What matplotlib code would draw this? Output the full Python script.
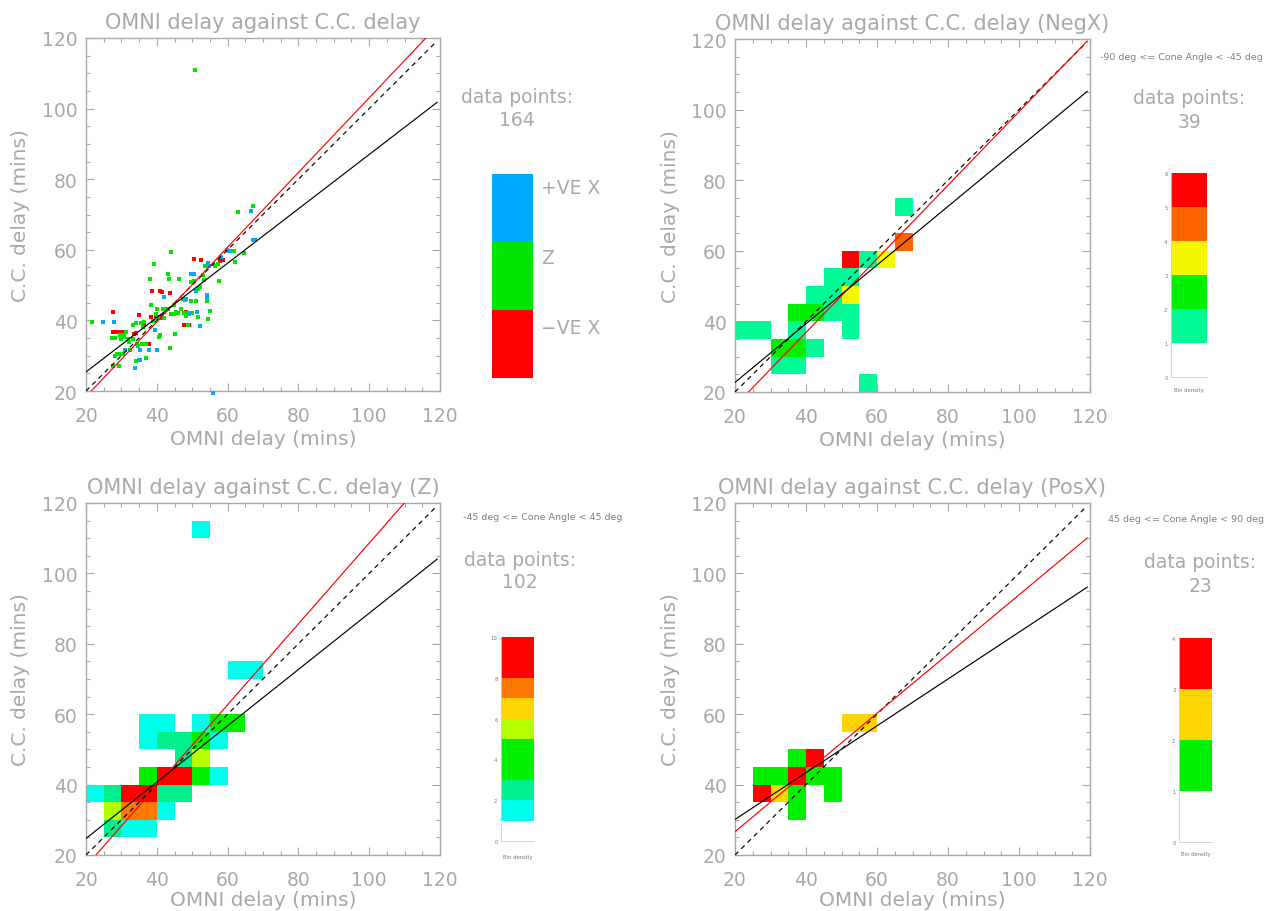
import numpy as np
import matplotlib
matplotlib.use("Agg")
import matplotlib.pyplot as plt
from matplotlib.colors import ListedColormap, BoundaryNorm
from matplotlib.ticker import MultipleLocator

# ---------------- data ----------------
# Panel 1 scatter: OMNI delay (x) vs C.C. delay (y), by cone-angle class
neg_x = [27.7, 27.5, 28.3, 29.0, 29.8, 30.5, 33.7, 34.1, 34.9, 36.3, 37.9, 38.4,
         39.8, 38.6, 40.8, 41.5, 43.8, 48.2, 48.7, 47.8, 49.2, 50.6, 52.5, 57.9,
         58.6, 41.4, 40.5]
neg_y = [42.3, 36.8, 36.8, 36.8, 36.8, 36.8, 36.1, 36.3, 41.5, 38.8, 33.3, 41.1,
         41.3, 48.4, 48.3, 48.1, 47.8, 42.5, 42.1, 38.8, 38.6, 57.4, 57.2, 56.9,
         57.2, 40.8, 41.0]

pos_x = [24.8, 27.8, 31.1, 33.8, 35.3, 35.3, 37.9, 40.1, 39.5, 42.1, 48.2, 49.7,
         50.6, 51.1, 54.4, 54.8, 54.2, 54.2, 52.3, 49.2, 51.4, 58.1, 59.7, 60.5,
         67.1, 67.7, 66.6, 55.8]
pos_y = [39.5, 39.5, 31.7, 26.5, 28.8, 31.7, 31.7, 31.7, 37.3, 46.5, 46.0, 53.1,
         53.1, 48.4, 56.4, 55.3, 47.2, 46.3, 38.3, 41.8, 42.3, 58.1, 59.9, 59.8,
         62.9, 62.9, 70.9, 19.3]

z_x = [21.6, 27.3, 28.2, 29.7, 30.6, 31.3, 29.9, 30.8, 31.8, 28.8, 29.7, 30.4,
       28.3, 27.5, 29.4, 33.2, 33.4, 34.4, 34.1, 35.1, 35.5, 36.5, 35.8, 36.9,
       36.9, 34.6, 40.9, 40.7, 38.8, 40.2, 41.7, 42.6, 43.3, 45.0, 43.8, 40.1,
       39.8, 38.2, 39.3, 43.1, 43.5, 44.0, 46.4, 44.0, 44.9, 45.9, 46.8, 47.3,
       48.0, 49.7, 49.7, 50.6, 51.5, 52.2, 53.2, 53.7, 54.4, 54.2, 55.1, 54.4,
       47.8, 48.7, 49.2, 48.2, 48.7, 51.5, 56.3, 57.2, 57.5, 61.0, 61.9, 62.2,
       64.5, 63.0, 67.1, 50.7, 37.0, 32.2, 34.0, 38.4, 42.0, 44.8, 51.0, 53.0,
       32.5, 36.0, 45.5, 50.0]
z_y = [39.6, 34.9, 34.9, 36.0, 36.0, 36.6, 34.7, 35.2, 34.7, 30.5, 30.5, 30.5,
       30.0, 27.2, 27.2, 38.7, 34.7, 33.3, 28.4, 28.8, 39.3, 39.5, 33.3, 33.3,
       29.3, 32.8, 36.0, 35.2, 39.9, 40.6, 43.2, 43.2, 43.2, 36.1, 32.2, 43.2,
       41.8, 51.7, 56.0, 53.1, 51.7, 59.3, 51.7, 41.8, 41.8, 42.1, 43.2, 46.0,
       45.9, 45.6, 51.0, 51.1, 48.9, 49.4, 51.5, 55.5, 55.5, 45.6, 42.8, 40.4,
       42.2, 42.2, 41.7, 41.3, 38.8, 40.9, 55.5, 56.0, 51.1, 59.8, 59.8, 56.6,
       59.0, 70.6, 72.3, 111.0, 29.3, 33.8, 39.4, 44.3, 40.8, 44.5, 45.5, 53.0,
       31.5, 38.0, 42.5, 42.0]

n_points = [164, 39, 102, 23]

# 2-D histograms (5-min bins): lower-left corner x, y and count
negx_cx = [20, 25, 30, 35, 30, 35, 40, 35, 35, 40, 40, 45, 45, 50, 50, 50, 45, 50,
           50, 55, 60, 65, 65, 55]
negx_cy = [35, 35, 30, 30, 25, 25, 30, 35, 40, 40, 45, 45, 40, 35, 40, 45, 50, 50,
           55, 55, 55, 60, 70, 20]
negx_n = [1, 1, 2, 2, 1, 1, 1, 1, 2, 2, 1, 1, 1, 1, 1, 3, 1, 1, 5, 1, 3, 4, 1, 1]

z_cx = [50, 60, 65, 35, 40, 35, 50, 55, 55, 20, 40, 30, 35,
        40, 45, 45, 25, 40, 45, 25,
        55, 60, 50, 35, 50,
        50, 25,
        30, 35,
        40, 45, 30, 35]
z_cy = [110, 70, 70, 55, 55, 50, 55, 50, 40, 35, 30, 25, 25,
        50, 50, 45, 35, 35, 35, 25,
        55, 55, 50, 40, 40,
        45, 30,
        30, 30,
        40, 40, 35, 35]
z_n = [1, 1, 1, 1, 1, 1, 1, 1, 1, 1, 1, 1, 1,
       2, 2, 2, 2, 2, 2, 2,
       3, 4, 3, 4, 3,
       5, 5,
       7, 7,
       8, 9, 8, 9]

posx_cx = [50, 55, 35, 40, 25, 30, 35, 40, 45, 25, 30, 35, 35, 45]
posx_cy = [55, 55, 45, 45, 40, 40, 40, 40, 40, 35, 35, 35, 30, 35]
posx_n = [2, 2, 1, 3, 1, 1, 3, 1, 1, 3, 2, 1, 1, 1]

# fitted lines (slope, intercept): red and black solid; dashed is y = x
red_slope = [1.058, 1.042, 1.148, 0.841]
red_icpt = [-2.75, -4.8, -6.2, 9.8]
blk_slope = [0.77, 0.831, 0.80, 0.665]
blk_icpt = [10.0, 6.1, 8.7, 16.8]

titles = ["OMNI delay against C.C. delay",
          "OMNI delay against C.C. delay (NegX)",
          "OMNI delay against C.C. delay (Z)",
          "OMNI delay against C.C. delay (PosX)"]
cone_text = [None,
             "-90 deg <= Cone Angle < -45 deg",
             "-45 deg <= Cone Angle < 45 deg",
             "45 deg <= Cone Angle < 90 deg"]

cb_colors_negx = ["#ffffff", "#00fa96", "#00f000", "#f5f800", "#ff6400", "#ff0000"]
cb_colors_z = ["#ffffff", "#00ffe8", "#00f090", "#00f000", "#00f000", "#b4ff00",
               "#ffd500", "#ff7800", "#ff0000", "#ff0000"]
cb_colors_posx = ["#ffffff", "#00f000", "#ffd500", "#ff0000"]

# ---------------- figure ----------------
W, H = 1273, 912
fig = plt.figure(figsize=(W / 100, H / 100), dpi=100)
plt.rcParams["font.family"] = ["DejaVu Sans"]
GRAY = "#a8a8a8"
TXT = "#a8a8a8"


def add_px(l, t, r, b):
    return fig.add_axes([l / W, 1 - b / H, (r - l) / W, (b - t) / H])


def style(ax, title, box):
    l, t, r, b = box
    ax.set_xlim(20, 120)
    ax.set_ylim(20, 120)
    for a in (ax.xaxis, ax.yaxis):
        a.set_major_locator(MultipleLocator(20))
        a.set_minor_locator(MultipleLocator(5))
    ax.tick_params(which="both", direction="in", top=True, right=True,
                   color=GRAY, labelcolor=TXT, labelsize=13.5, width=0.8)
    ax.tick_params(which="major", length=6)
    ax.tick_params(which="minor", length=3)
    ax.tick_params(axis="x", pad=11)
    ax.tick_params(axis="y", pad=6)
    for s in ax.spines.values():
        s.set_color(GRAY)
        s.set_linewidth(1.0)
    cx = (l + r) / 2
    fig.text(cx / W, 1 - (t - 10) / H, title, ha="center", va="baseline",
             fontsize=15, color=TXT)
    lab_base = min(b + 53, H - 6)
    fig.text(cx / W, 1 - lab_base / H, "OMNI delay (mins)", ha="center",
             va="baseline", fontsize=14.5, color=TXT)
    fig.text((l - 65) / W, 1 - ((t + b) / 2) / H, "C.C. delay (mins)",
             ha="center", va="center", rotation=90, fontsize=14.5, color=TXT)


def draw_lines(ax, i):
    xs = np.array([20.0, 119.2])
    ax.plot(xs, xs, color="black", lw=0.85, ls=(0, (4, 3.5)), zorder=4)
    ax.plot(xs, red_slope[i] * xs + red_icpt[i], color="red", lw=0.85, zorder=5)
    ax.plot(xs, blk_slope[i] * xs + blk_icpt[i], color="black", lw=0.85, zorder=5)


def draw_hist(ax, cx, cy, n, colors):
    edges = np.arange(20, 121, 5)
    grid = np.zeros((20, 20))
    for x, y, c in zip(cx, cy, n):
        grid[(y - 20) // 5, (x - 20) // 5] = c
    cmap = ListedColormap(colors)
    norm = BoundaryNorm(np.arange(len(colors) + 1), cmap.N)
    ax.pcolormesh(edges, edges, np.ma.masked_equal(grid, 0), cmap=cmap,
                  norm=norm, zorder=1)


def draw_cbar(box, colors, step, label_y):
    l, t, r, b = box
    cax = add_px(l, t, r, b)
    nlev = len(colors)
    cmap = ListedColormap(colors)
    norm = BoundaryNorm(np.arange(nlev + 1), cmap.N)
    cax.pcolormesh([0, 1], np.arange(nlev + 1),
                   np.arange(nlev).reshape(-1, 1), cmap=cmap, norm=norm)
    cax.set_xlim(0, 1)
    cax.set_ylim(0, nlev)
    cax.set_xticks([])
    cax.set_yticks(np.arange(0, nlev + 1, step))
    cax.tick_params(axis="y", length=1.0, width=0.4, color="#bbbbbb",
                    labelsize=3.8, labelcolor="#777777", pad=1.5)
    for k in ("top", "right"):
        cax.spines[k].set_visible(False)
    for k in ("left", "bottom"):
        cax.spines[k].set_color("#d0d0d0")
        cax.spines[k].set_linewidth(0.6)
    fig.text(((l + r) / 2) / W, 1 - label_y / H, "Bin density", ha="center",
             va="center", fontsize=3.8, color="#777777")


def data_points(cx, y1, n):
    fig.text(cx / W, 1 - y1 / H, "data points:", ha="center", va="center",
             fontsize=13.5, color=TXT)
    fig.text(cx / W, 1 - (y1 + 23) / H, str(n), ha="center", va="center",
             fontsize=13.5, color=TXT)


boxes = [(86, 39, 440, 392), (735, 40, 1090, 393),
         (86, 504, 440, 856), (735, 504, 1090, 856)]
axes = [add_px(*bx) for bx in boxes]
for i, ax in enumerate(axes):
    style(ax, titles[i], boxes[i])
    draw_lines(ax, i)

# panel 1 scatter
ax = axes[0]
ax.scatter(neg_x, neg_y, marker="s", s=12, c="#ff0000", linewidths=0,
           zorder=3, clip_on=False)
ax.scatter(z_x, z_y, marker="s", s=12, c="#00e600", linewidths=0,
           zorder=3, clip_on=False)
ax.scatter(pos_x, pos_y, marker="s", s=12, c="#00aaff", linewidths=0,
           zorder=3, clip_on=False)

# panel 1 legend blocks
leg_colors = ["#00aaff", "#00e600", "#ff0000"]
leg_labels = ["+VE X", "Z", "\u2212VE X"]
lax = add_px(492, 175, 533, 379)
for k, c in enumerate(leg_colors):
    lax.axhspan(2 - k, 3 - k, color=c, lw=0)
lax.set_xlim(0, 1)
lax.set_ylim(0, 3)
lax.axis("off")
for k, lab in enumerate(leg_labels):
    fig.text(541 / W, 1 - (189 + 69.5 * k) / H, lab, ha="left", va="center",
             fontsize=13.5, color=TXT)
data_points(517, 98, n_points[0])

# histograms
draw_hist(axes[1], negx_cx, negx_cy, negx_n, cb_colors_negx)
draw_hist(axes[2], z_cx, z_cy, z_n, cb_colors_z)
draw_hist(axes[3], posx_cx, posx_cy, posx_n, cb_colors_posx)

draw_cbar((1171, 174, 1207, 378), cb_colors_negx, 1, 391)
draw_cbar((501, 638, 534, 842), cb_colors_z, 2, 858)
draw_cbar((1179, 639, 1212, 843), cb_colors_posx, 1, 855)

data_points(1189, 99, n_points[1])
data_points(520, 560, n_points[2])
data_points(1200, 563, n_points[3])

fig.text(1100 / W, 1 - 57 / H, cone_text[1], ha="left", va="center",
         fontsize=6.8, color="#808080")
fig.text(463 / W, 1 - 518 / H, cone_text[2], ha="left", va="center",
         fontsize=6.8, color="#808080")
fig.text(1108 / W, 1 - 520 / H, cone_text[3], ha="left", va="center",
         fontsize=6.8, color="#808080")

fig.savefig("out.png", dpi=100, facecolor="white")
